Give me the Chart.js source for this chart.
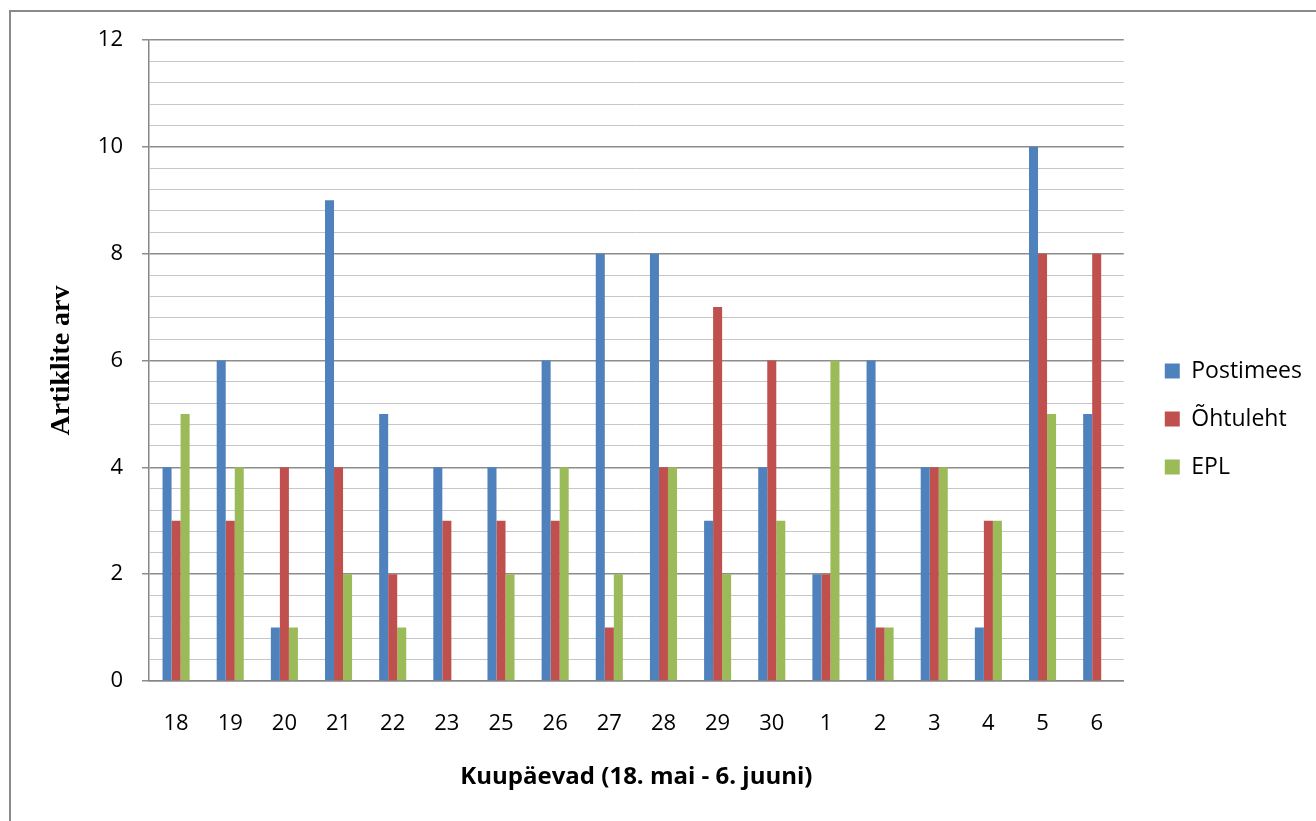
<!DOCTYPE html>
<html>
<head>
<meta charset="utf-8">
<script src="https://cdn.jsdelivr.net/npm/chart.js@4"></script>
<style>
  html, body { margin: 0; padding: 0; background: #fff; overflow: hidden; }
  #frame { position: absolute; left: 9px; top: 10px; width: 2000px; height: 2000px;
           border-left: 2px solid #8a8a8a; border-top: 2px solid #8a8a8a; box-sizing: border-box; }
  #wrap { position: absolute; left: 0; top: 0; width: 1316px; height: 821px; }
</style>
</head>
<body>
<div id="frame"></div>
<div id="wrap"><canvas id="c" width="1316" height="821"></canvas></div>
<script>
const categories = ['18','19','20','21','22','23','25','26','27','28','29','30','1','2','3','4','5','6'];
const postimees = [4, 6, 1, 9, 5, 4, 4, 6, 8, 8, 3, 4, 2, 6, 4, 1, 10, 5];
const ohtuleht  = [3, 3, 4, 4, 2, 3, 3, 3, 1, 4, 7, 6, 2, 1, 4, 3, 8, 8];
const epl       = [5, 4, 1, 2, 1, 0, 2, 4, 2, 4, 2, 3, 6, 1, 4, 3, 5, 0];
const seriesNames = ['Postimees', 'Õhtuleht', 'EPL'];
const yTickLabels = ['0', '2', '4', '6', '8', '10', '12'];

const isMajor = v => Math.abs(v / 2 - Math.round(v / 2)) < 1e-6;

Chart.defaults.font.family = "'Open Sans', sans-serif";
Chart.defaults.color = '#000';

new Chart(document.getElementById('c'), {
  type: 'bar',
  data: {
    labels: categories,
    datasets: [
      { label: seriesNames[0], data: postimees, backgroundColor: '#4F81BD' },
      { label: seriesNames[1], data: ohtuleht,  backgroundColor: '#C0504D' },
      { label: seriesNames[2], data: epl,       backgroundColor: '#9BBB59' }
    ]
  },
  options: {
    responsive: false,
    animation: false,
    datasets: { bar: { categoryPercentage: 0.5, barPercentage: 1.0 } },
    layout: { padding: { left: 0, top: 40, right: 4, bottom: 23 } },
    plugins: {
      legend: {
        position: 'right',
        labels: { boxWidth: 15, boxHeight: 15, padding: 25, font: { size: 23 } }
      },
      tooltip: { enabled: false }
    },
    scales: {
      x: {
        grid: { display: false, drawTicks: false },
        border: { display: true, color: '#868686', width: 1.5 },
        ticks: { padding: 30, font: { size: 22 }, maxRotation: 0, autoSkip: false },
        title: { display: true, text: 'Kuupäevad (18. mai - 6. juuni)',
                 font: { size: 24, weight: 'bold' }, padding: { top: 6, bottom: 6 } },
        afterFit: s => { s.height = 117; }
      },
      y: {
        min: 0, max: 12,
        ticks: {
          stepSize: 0.4, autoSkip: false, padding: 19, font: { size: 22 },
          callback: v => isMajor(v) ? yTickLabels[Math.round(v / 2)] : ''
        },
        grid: {
          drawTicks: true, tickLength: 7,
          color: ctx => isMajor(ctx.tick.value) ? '#8c8c8c' : '#c6c6c6',
          lineWidth: ctx => isMajor(ctx.tick.value) ? 1.5 : 1,
          tickColor: ctx => isMajor(ctx.tick.value) ? '#8c8c8c' : 'rgba(0,0,0,0)'
        },
        border: { display: true, color: '#868686', width: 1.5 },
        title: { display: true, text: 'Artiklite arv',
                 font: { family: "'Liberation Serif', 'Times New Roman', serif", size: 28, weight: 'bold' },
                 padding: { top: 45, bottom: 45 } },
        afterFit: s => { s.width = 149; }
      },
      gap: {
        type: 'linear', position: 'right', display: true,
        grid: { display: false, drawTicks: false },
        ticks: { display: false },
        border: { display: false },
        afterFit: s => { s.width = 16; }
      }
    }
  }
});
</script>
</body>
</html>
